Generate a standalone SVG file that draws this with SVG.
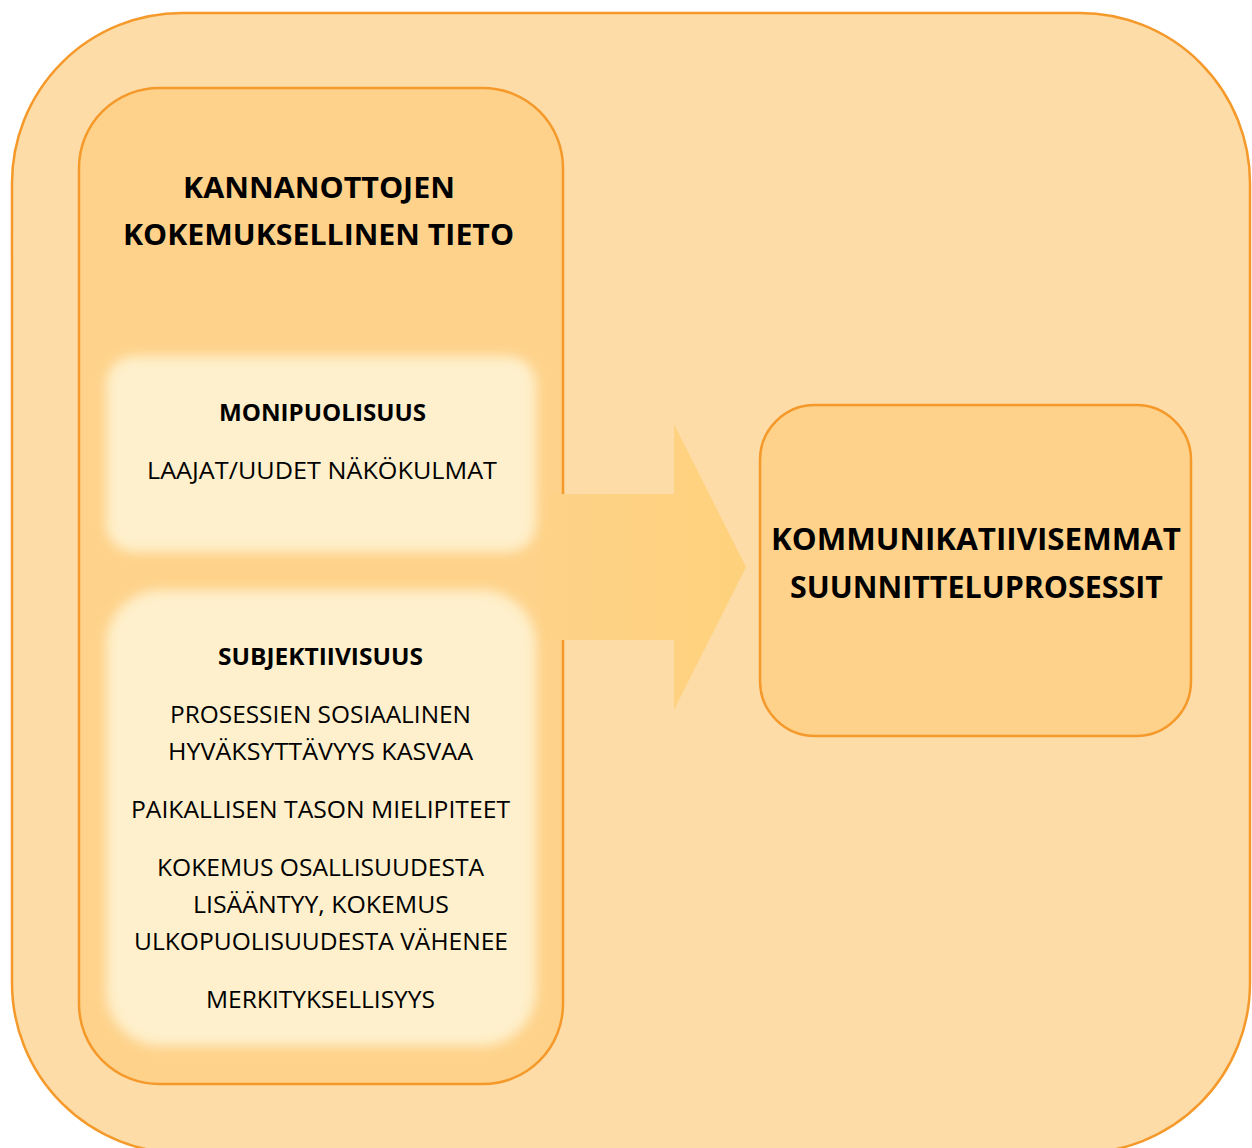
<svg xmlns="http://www.w3.org/2000/svg" width="1252" height="1148" viewBox="0 0 1252 1148">
<style>
.box{stroke:#F5992A;stroke-width:2.5}
.t{font-family:"Open Sans","Liberation Sans",sans-serif;fill:#000;text-anchor:middle}
.b{font-weight:700}
.soft{fill:#FEF0CC}
</style>
<defs>
<filter id="blur" x="-10%" y="-10%" width="120%" height="120%">
<feGaussianBlur stdDeviation="6"/>
</filter>
<linearGradient id="ag" x1="0" y1="0" x2="1" y2="0">
<stop offset="0" stop-color="#FED288"/>
<stop offset="1" stop-color="#FED27C"/>
</linearGradient>
</defs>
<rect width="1252" height="1148" fill="#FFFFFF"/>
<g id="outer">
<rect class="box" x="12" y="13" width="1238" height="1140" rx="170" ry="170" fill="#FDDCA8"/>
</g>
<g id="left-box">
<rect class="box" x="79" y="88" width="484" height="996" rx="80" ry="80" fill="#FED28A"/>
<text class="t b" x="319" y="198" font-size="29" textLength="272" lengthAdjust="spacingAndGlyphs">KANNANOTTOJEN</text>
<text class="t b" x="318.5" y="245" font-size="29" textLength="391" lengthAdjust="spacingAndGlyphs">KOKEMUKSELLINEN TIETO</text>
</g>
<g id="connectors">
<polygon points="540,494 674,494 674,424 746,567 674,710 674,640 540,640" fill="url(#ag)"/>
</g>
<g id="monipuolisuus">
<rect class="soft" x="106" y="356" width="430" height="196" rx="28" ry="28" filter="url(#blur)"/>
<text class="t b" x="322.5" y="421" font-size="23" textLength="207" lengthAdjust="spacingAndGlyphs">MONIPUOLISUUS</text>
<text class="t" x="322" y="479" font-size="23" textLength="350" lengthAdjust="spacingAndGlyphs">LAAJAT/UUDET NÄKÖKULMAT</text>
</g>
<g id="subjektiivisuus">
<rect class="soft" x="106" y="590" width="430" height="456" rx="55" ry="55" filter="url(#blur)"/>
<text class="t b" x="320.5" y="665" font-size="23" textLength="205" lengthAdjust="spacingAndGlyphs">SUBJEKTIIVISUUS</text>
<text class="t" x="320.5" y="723" font-size="23" textLength="301" lengthAdjust="spacingAndGlyphs">PROSESSIEN SOSIAALINEN</text>
<text class="t" x="320.5" y="760" font-size="23" textLength="305" lengthAdjust="spacingAndGlyphs">HYVÄKSYTTÄVYYS KASVAA</text>
<text class="t" x="320.5" y="818" font-size="23" textLength="379" lengthAdjust="spacingAndGlyphs">PAIKALLISEN TASON MIELIPITEET</text>
<text class="t" x="320.5" y="876" font-size="23" textLength="327" lengthAdjust="spacingAndGlyphs">KOKEMUS OSALLISUUDESTA</text>
<text class="t" x="321" y="913" font-size="23" textLength="256" lengthAdjust="spacingAndGlyphs">LISÄÄNTYY, KOKEMUS</text>
<text class="t" x="321" y="950" font-size="23" textLength="374" lengthAdjust="spacingAndGlyphs">ULKOPUOLISUUDESTA VÄHENEE</text>
<text class="t" x="320.5" y="1008" font-size="23" textLength="229" lengthAdjust="spacingAndGlyphs">MERKITYKSELLISYYS</text>
</g>
<g id="kommunikatiivisemmat">
<rect class="box" x="760" y="405" width="431" height="331" rx="55" ry="55" fill="#FED28A"/>
<text class="t b" x="976" y="550" font-size="30" textLength="410" lengthAdjust="spacingAndGlyphs">KOMMUNIKATIIVISEMMAT</text>
<text class="t b" x="976.5" y="598" font-size="30" textLength="373" lengthAdjust="spacingAndGlyphs">SUUNNITTELUPROSESSIT</text>
</g>
</svg>
